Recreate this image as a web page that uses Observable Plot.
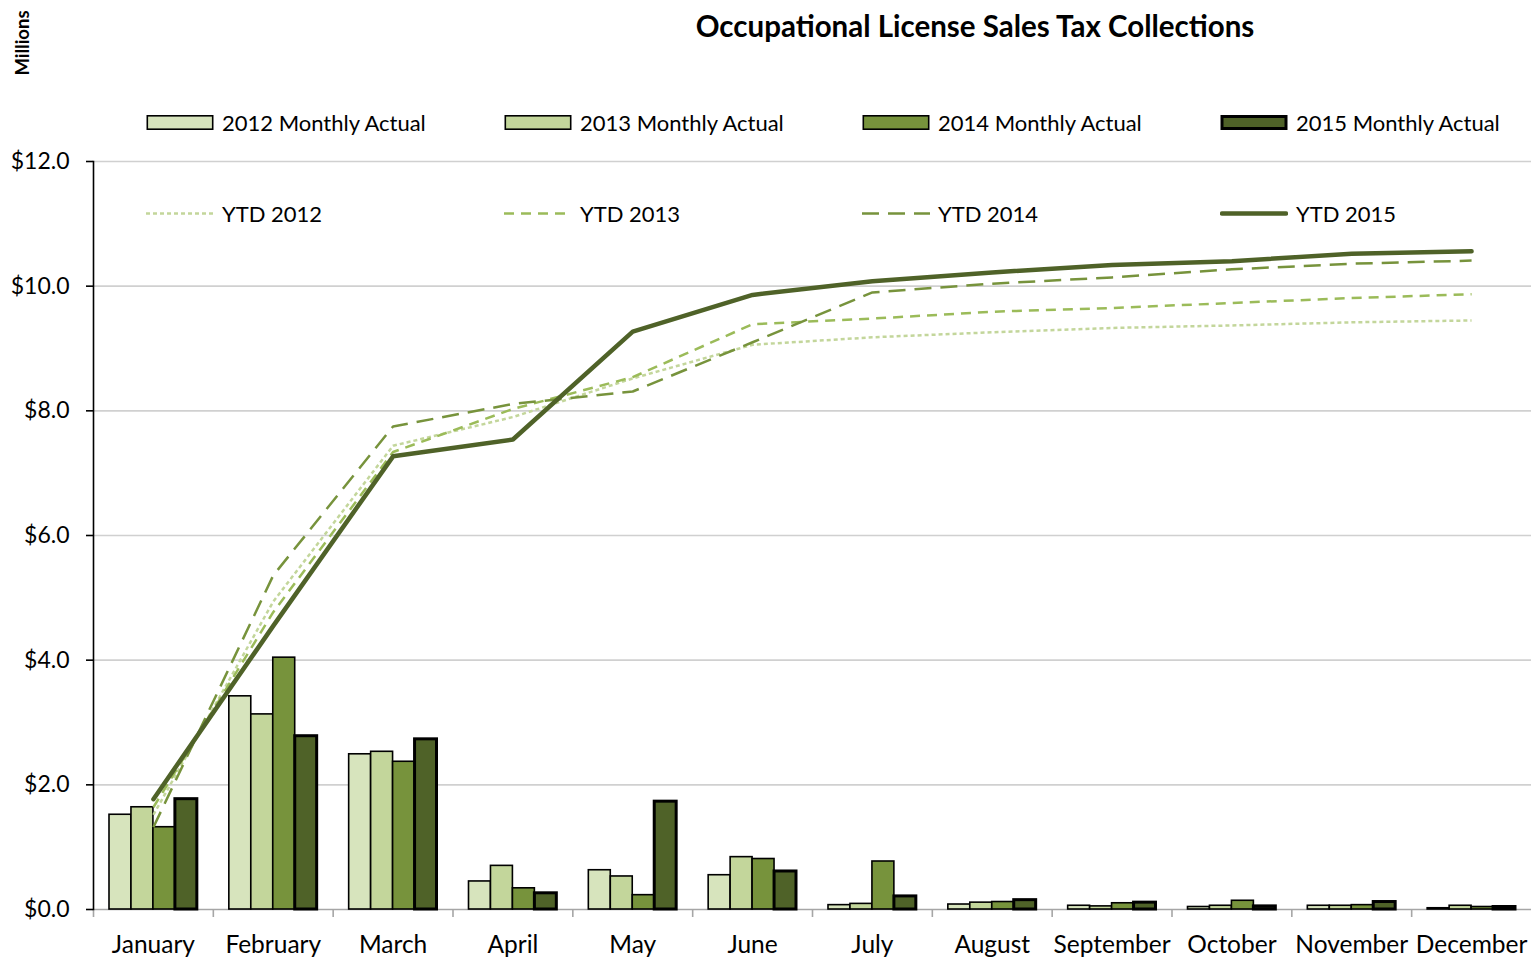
<!DOCTYPE html>
<html><head><meta charset="utf-8">
<script src="https://cdn.jsdelivr.net/npm/d3@7"></script>
<script src="https://cdn.jsdelivr.net/npm/@observablehq/plot@0.6"></script>
<style>
body{margin:0;background:#fff;font-family:Lato,"Open Sans",sans-serif;color:#000;}
#wrap{position:relative;width:1540px;height:959px;overflow:hidden;}
#chart{position:absolute;left:0;top:0;}
.title{position:absolute;left:0;width:1950px;top:8px;text-align:center;font-weight:bold;font-size:29.5px;}
.units{position:absolute;left:22px;top:43px;transform:translate(-50%,-50%) rotate(-90deg);font-weight:bold;font-size:18.5px;white-space:nowrap;}
.leg{position:absolute;display:flex;align-items:center;font-size:22px;white-space:nowrap;transform:translateY(-50%);}
.leg svg{margin-right:8px;display:block;}
</style></head><body>
<div id="wrap"><div id="chart"></div></div>
<script>
const months = ["January","February","March","April","May","June","July","August","September","October","November","December"];
const barSeries = ["2012 Monthly Actual","2013 Monthly Actual","2014 Monthly Actual","2015 Monthly Actual"];
const lineSeries = ["YTD 2012","YTD 2013","YTD 2014","YTD 2015"];
const monthly2012 = [1.52,3.42,2.49,0.45,0.63,0.55,0.07,0.08,0.06,0.04,0.06,0.02];
const monthly2013 = [1.64,3.13,2.53,0.70,0.53,0.84,0.09,0.11,0.05,0.06,0.06,0.06];
const monthly2014 = [1.32,4.04,2.37,0.34,0.23,0.81,0.77,0.12,0.10,0.14,0.07,0.04];
const monthly2015 = [1.77,2.78,2.73,0.26,1.73,0.61,0.21,0.15,0.11,0.05,0.12,0.04];
const ytd2012 = [1.52,4.94,7.44,7.90,8.52,9.06,9.18,9.26,9.33,9.37,9.42,9.45];
const ytd2013 = [1.64,4.77,7.34,8.03,8.54,9.39,9.48,9.59,9.65,9.73,9.81,9.87];
const ytd2014 = [1.32,5.36,7.75,8.11,8.31,9.10,9.90,10.04,10.14,10.27,10.36,10.41];
const ytd2015 = [1.77,4.55,7.27,7.54,9.27,9.86,10.08,10.22,10.34,10.40,10.52,10.56];
const yTicks = [0,2,4,6,8,10,12];

const barColors = ["#d7e4bd","#c3d69b","#77933c","#4f6228"];
const barStrokeW = [1.6,1.6,1.6,3];
const lineColors = ["#c3d69b","#9bbb59","#77933c","#4f6228"];
const lineWidths = [2.5,2.5,2.5,4.5];
const lineDash = ["4 3","10 7","17 9",null];

const monthlyAll = [monthly2012,monthly2013,monthly2014,monthly2015];
const ytdAll = [ytd2012,ytd2013,ytd2014,ytd2015];
const barData = barSeries.map((s,i)=>months.map((m,j)=>({series:s,month:m,value:monthlyAll[i][j]})));
const lineData = lineSeries.map((s,i)=>months.map((m,j)=>({series:s,month:m,value:ytdAll[i][j]})));

const W=1540,H=959,mL=93,mR=9,mT=161,mB=50;
const band=(W-mL-mR)/months.length;
const pad=band*0.1335, bw=band*0.1833;

const marks=[
  Plot.ruleY(yTicks.filter(d=>d>0),{stroke:"#d0d0d0",strokeWidth:1.6}),
  Plot.ruleY([0],{stroke:"#a6a6a6",strokeWidth:1.6}),
  Plot.axisX({tickSize:8,text:null,dx:-band/2,stroke:"#a6a6a6",strokeWidth:1.6}),
  Plot.axisX({tickSize:0,tickPadding:26,fontSize:24.5}),
  Plot.axisY({ticks:yTicks,tickFormat:d=>"$"+d.toFixed(1),tickSize:7,tickPadding:17,fontSize:23,strokeWidth:1.6}),
  Plot.frame({anchor:"left",stroke:"#000",strokeWidth:1.6})
];
barData.forEach((d,i)=>{
  marks.push(Plot.barY(d,{x:"month",y:"value",fill:barColors[i],stroke:"#000",strokeWidth:barStrokeW[i],
    insetLeft:pad+i*bw,insetRight:pad+(3-i)*bw}));
});
lineData.forEach((d,i)=>{
  const o={x:"month",y:"value",stroke:lineColors[i],strokeWidth:lineWidths[i],strokeLinejoin:"round",strokeLinecap:i===3?"round":"butt"};
  if(lineDash[i]) o.strokeDasharray=lineDash[i];
  marks.push(Plot.lineY(d,o));
});

const chart=Plot.plot({
  width:W,height:H,marginLeft:mL,marginRight:mR,marginTop:mT,marginBottom:mB,
  x:{type:"band",domain:months,padding:0,round:false,label:null},
  y:{domain:[0,12],label:null},
  style:{fontFamily:'Lato,"Open Sans",sans-serif',fontSize:"23px",color:"#000",background:"#fff"},
  marks
});
const wrap=document.getElementById("wrap");
document.getElementById("chart").appendChild(chart);

const t=document.createElement("div");t.className="title";t.textContent="Occupational License Sales Tax Collections";wrap.appendChild(t);
const u=document.createElement("div");u.className="units";u.textContent="Millions";wrap.appendChild(u);

const legX=[146,504,862,1220];
barSeries.forEach((s,i)=>{
  const d=document.createElement("div");d.className="leg";d.style.left=legX[i]+"px";d.style.top="122px";
  const sw=barStrokeW[i];
  d.innerHTML=`<svg width="68" height="16"><rect x="${sw/2+0.5}" y="${sw/2+0.5}" width="${67-sw}" height="${15-sw}" fill="${barColors[i]}" stroke="#000" stroke-width="${sw}"/></svg><span>${s}</span>`;
  wrap.appendChild(d);
});
lineSeries.forEach((s,i)=>{
  const d=document.createElement("div");d.className="leg";d.style.left=legX[i]+"px";d.style.top="213px";
  d.innerHTML=`<svg width="68" height="10"><line x1="${i===3?2:0}" x2="${i===3?66:68}" y1="5" y2="5" stroke="${lineColors[i]}" stroke-width="${lineWidths[i]}" ${lineDash[i]?`stroke-dasharray="${lineDash[i]}"`:""} stroke-linecap="${i===3?"round":"butt"}"/></svg><span>${s}</span>`;
  wrap.appendChild(d);
});
</script></body></html>
